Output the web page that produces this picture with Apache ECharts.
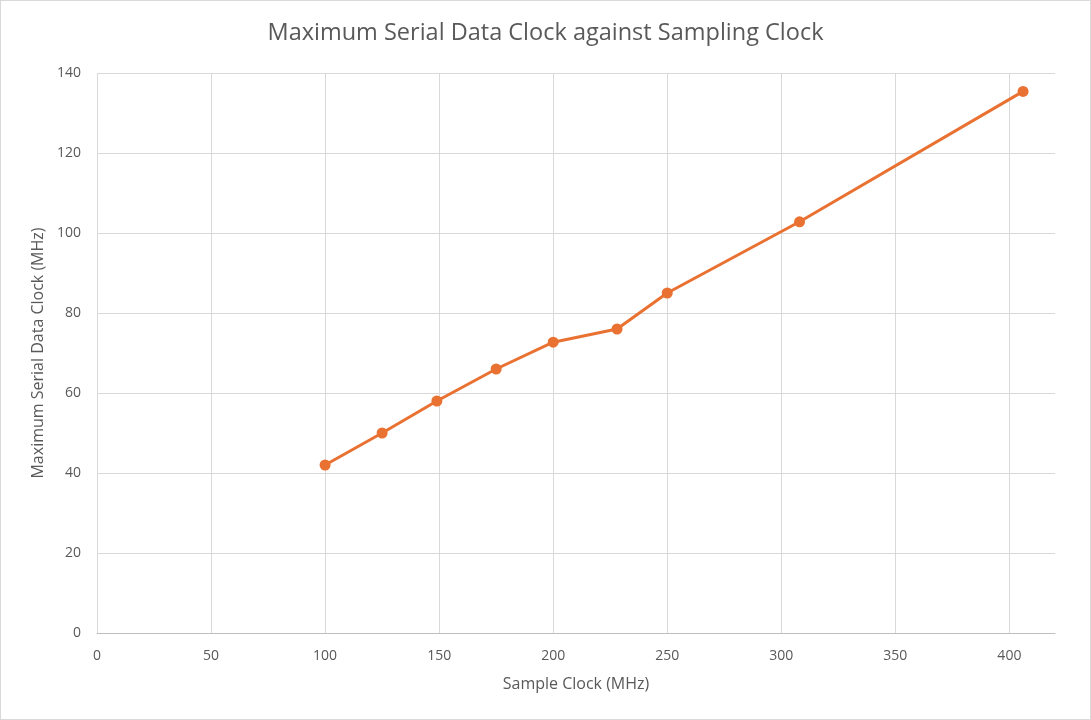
<!DOCTYPE html>
<html>
<head>
<meta charset="utf-8">
<script src="https://cdn.jsdelivr.net/npm/echarts@6/dist/echarts.min.js"></script>
<style>
  html, body { margin: 0; padding: 0; background: #fff; }
  #chart { width: 1089px; height: 718px; border: 1px solid #d9d9d9; }
</style>
</head>
<body>
<div id="chart"></div>
<script>
// sample clock (MHz) vs maximum serial data clock (MHz)
var sampleClock = [100, 125, 149, 175, 200, 228, 250, 308, 406];
var maxSerialClock = [42, 50, 58, 66, 72.7, 76, 85, 102.8, 135.4];

var points = sampleClock.map(function (x, i) {
  return [x, maxSerialClock[i]];
});

var chart = echarts.init(document.getElementById('chart'));
var grey = '#595959';
var font = 'Open Sans, Liberation Sans, sans-serif';

chart.setOption({
  backgroundColor: '#fff',
  animation: false,
  title: {
    text: 'Maximum Serial Data Clock against Sampling Clock',
    left: 'center',
    top: 15,
    textStyle: { color: grey, fontSize: 23.5, fontWeight: 'normal', fontFamily: font }
  },
  grid: { left: 96, right: 35, top: 72, bottom: 86 },
  xAxis: {
    type: 'value',
    min: 0,
    max: 420,
    interval: 50,
    name: 'Sample Clock (MHz)',
    nameLocation: 'middle',
    nameGap: 43,
    nameTextStyle: { color: grey, fontSize: 16, fontFamily: font },
    axisLine: { show: true, lineStyle: { color: '#bfbfbf', width: 1 } },
    axisTick: { show: false },
    axisLabel: { color: grey, fontSize: 14, margin: 16, fontFamily: font, showMaxLabel: false },
    splitLine: { show: true, showMaxLine: false, lineStyle: { color: '#d9d9d9', width: 1 } }
  },
  yAxis: {
    type: 'value',
    min: 0,
    max: 140,
    interval: 20,
    name: 'Maximum Serial Data Clock (MHz)',
    nameLocation: 'middle',
    nameGap: 51,
    nameTextStyle: { color: grey, fontSize: 16, fontFamily: font },
    axisLine: { show: false },
    axisTick: { show: false },
    axisLabel: { color: grey, fontSize: 14, margin: 16, fontFamily: font },
    splitLine: { show: true, lineStyle: { color: '#d9d9d9', width: 1 } }
  },
  series: [
    {
      type: 'line',
      data: points,
      symbol: 'circle',
      symbolSize: 11,
      lineStyle: { color: '#E97132', width: 3 },
      itemStyle: { color: '#E97132' }
    }
  ]
});
</script>
</body>
</html>
